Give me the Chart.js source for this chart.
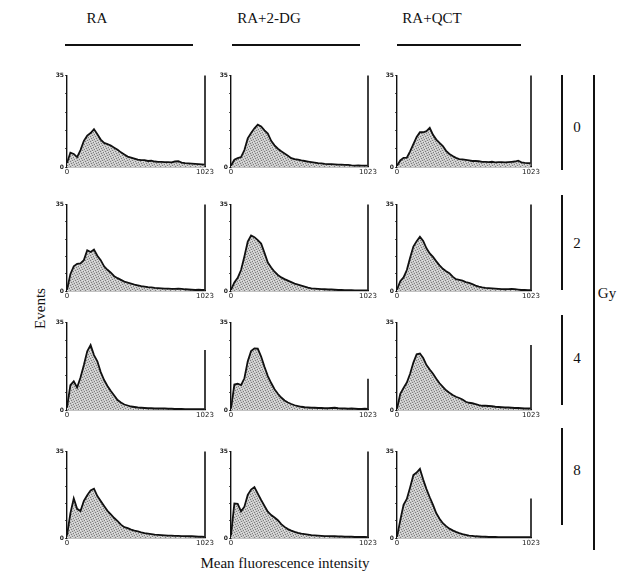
<!DOCTYPE html>
<html>
<head>
<meta charset="utf-8">
<script src="https://cdn.jsdelivr.net/npm/chart.js@4"></script>
<style>
  body { margin: 0; background: #fff; }
  #fig { position: relative; width: 644px; height: 577px; font-family: "Liberation Serif", "DejaVu Serif", serif; color: #111; }
  .lbl { position: absolute; font-size: 15px; transform: translate(-50%, -50%); white-space: nowrap; }
  .ln { position: absolute; background: #111; }
  canvas { position: absolute; }
</style>
</head>
<body>
<div id="fig"></div>
<script>
// categories
const treatments = ['RA', 'RA+2-DG', 'RA+QCT'];
const doses = ['0', '2', '4', '8'];
const xTickLabels = ['0', '1023'];
const yMax = 35;

// fluorescence channels (x of each histogram point)
const channels = [0, 25, 50, 75, 100, 125, 150, 175, 200, 225, 250, 275, 300, 325, 350, 375, 400, 425, 450, 475,
  500, 525, 550, 575, 600, 625, 650, 675, 700, 725, 750, 775, 800, 825, 850, 875, 900, 925, 950, 975, 1000, 1020];

// events per channel
const ra0 = [1.5, 5.5, 5, 3.8, 6.5, 10, 12, 13, 14.5, 12.5, 10.5, 9.2, 8.8, 8.2, 7.4, 6.6, 5.6, 4.8, 4, 3.6,
  3.2, 2.8, 2.6, 2.6, 2.3, 2.4, 2.1, 2, 2, 1.9, 1.9, 1.8, 2.1, 2.2, 1.7, 1.5, 1.4, 1.3, 1.2, 1.1, 1, 0.9];
const dg0 = [0.5, 2.8, 3.4, 3.8, 6.5, 11, 13, 14.8, 16.2, 15.5, 14, 12.8, 10, 8.3, 7, 6, 5.2, 4.3, 3.4, 3,
  2.8, 2.5, 2.3, 2.1, 1.9, 1.7, 1.5, 1.4, 1.2, 1.1, 1.1, 1, 0.9, 0.9, 0.8, 0.8, 0.6, 0.5, 0.6, 0.5, 0.5, 0.5];
const qct0 = [0.5, 2.5, 3.5, 3.6, 6, 8.8, 11.5, 13.3, 13.3, 13.7, 15, 12.3, 10.5, 9.2, 8, 6.2, 5, 4.2, 3.5, 3,
  2.9, 2.7, 2.5, 2.3, 2.3, 2.2, 2, 2, 1.9, 2, 1.8, 1.9, 1.9, 1.8, 1.9, 2, 2.1, 2.4, 1.8, 1.6, 1.5, 1.5];

const ra2 = [0.5, 6.8, 10, 11, 11.2, 12.5, 16.5, 15.8, 16.8, 14.3, 12.5, 10, 8.6, 7.4, 6, 5.2, 4.5, 3.8, 3.4, 3,
  2.6, 2.3, 2, 1.8, 1.6, 1.5, 1.3, 1.2, 1.1, 1, 1, 0.9, 0.9, 1, 0.9, 0.7, 0.6, 0.5, 0.4, 0.5, 0.4, 0.4];
const dg2 = [0.4, 3.5, 5.3, 8.5, 14, 20, 22.5, 21.8, 20.6, 19.2, 15.5, 11.5, 9.5, 7.8, 6.5, 5.5, 4.8, 4.2, 3.6, 3,
  2.6, 2.2, 1.8, 1.4, 1.1, 1, 0.9, 0.8, 0.7, 0.6, 0.6, 0.5, 0.4, 0.4, 0.3, 0.3, 0.3, 0.2, 0.2, 0.2, 0.2, 0.2];
const qct2 = [0.5, 4, 5.5, 8.5, 13.5, 18, 20.2, 22, 20.3, 17.3, 15.2, 13.8, 12, 10.4, 9, 8, 7.2, 5.8, 4.8, 4.5,
  4.2, 3.6, 3.3, 2.8, 2.2, 1.8, 1.5, 1.3, 1.2, 1.1, 1, 0.9, 0.8, 0.7, 0.8, 0.9, 0.8, 0.6, 0.4, 0.4, 0.3, 0.3];

const ra4 = [1, 10, 11.5, 9, 13, 18, 23.5, 26, 22, 19.5, 15.2, 12, 9.6, 7.6, 5.8, 4, 3, 2.2, 1.8, 1.4,
  1.2, 1, 0.9, 0.8, 0.7, 0.7, 0.6, 0.6, 0.6, 0.6, 0.5, 0.5, 0.4, 0.4, 0.4, 0.3, 0.3, 0.3, 0.3, 0.3, 0.3, 0.3];
const dg4 = [0.5, 10.2, 10.5, 10, 12.7, 19.5, 23.6, 24.7, 24.6, 21.4, 17.3, 13.6, 10.8, 8.3, 6.5, 5, 3.8, 3, 2.4, 1.9,
  1.6, 1.3, 1.1, 1, 0.9, 0.9, 0.8, 0.8, 0.7, 0.7, 0.8, 0.9, 0.7, 0.6, 0.6, 0.5, 0.6, 0.5, 0.4, 0.4, 0.5, 0.4];
const qct4 = [0.5, 6.5, 8.8, 11, 14.5, 19, 22.3, 22.6, 20.8, 18, 16.2, 14.5, 12.5, 10.7, 9.3, 7.9, 6.9, 6, 5.3, 4.8,
  4.2, 3.3, 2.9, 2.7, 2.4, 2, 1.7, 1.7, 1.6, 1.5, 1.3, 1.2, 1.1, 1, 1, 0.9, 0.8, 0.8, 0.7, 0.6, 0.6, 0.6];

const ra8 = [1, 10, 16, 11.8, 10.9, 15, 17.3, 19.3, 20, 17, 15, 13, 11, 9.6, 8.1, 6.8, 5.4, 4.4, 4, 3.4,
  3, 2.7, 2.3, 2, 1.8, 1.6, 1.4, 1.3, 1.2, 1.1, 1, 1, 0.9, 0.9, 0.8, 0.8, 0.7, 0.7, 0.6, 0.5, 0.5, 0.4];
const dg8 = [1, 14, 13.8, 10.8, 12.7, 17.5, 19.6, 20.6, 18, 15.4, 13, 10.7, 9.3, 8.3, 7.2, 5.6, 4.5, 3.6, 3, 2.5,
  2.1, 1.8, 1.6, 1.4, 1.2, 1.1, 1, 0.9, 0.8, 0.8, 0.7, 0.7, 0.6, 0.6, 0.5, 0.5, 0.5, 0.4, 0.4, 0.4, 0.4, 0.3];
const qct8 = [0.5, 7.2, 13.4, 15.8, 20.5, 25.5, 26.5, 28, 23.7, 19.8, 16.5, 13.4, 10, 7.8, 6, 4.8, 3.8, 3.1, 2.5, 2,
  1.6, 1.3, 1, 0.9, 0.7, 0.6, 0.5, 0.5, 0.4, 0.4, 0.4, 0.3, 0.3, 0.3, 0.3, 0.3, 0.3, 0.3, 0.3, 0.3, 0.3, 0.3];

// height of the overflow bar at channel 1023, row by row
const overflow = [35, 35, 35, 35, 35, 35, 24, 12.5, 26, 35, 35, 16];

const histograms = [[ra0, dg0, qct0], [ra2, dg2, qct2], [ra4, dg4, qct4], [ra8, dg8, qct8]];

// panel placement (plot area edges in px)
const colLeft = [67, 231, 397], colRight = [205, 368, 531];
const rowTop = [75, 204, 322, 451], rowBottom = [167, 291, 410, 538];
const AX_W = 12, AX_H = 10, PAD_T = 4, PAD_R = 10, PAD_B = 2;

const fig = document.getElementById('fig');

function addLabel(text, x, y, extra) {
  const d = document.createElement('div');
  d.className = 'lbl';
  d.textContent = text;
  d.style.left = x + 'px';
  d.style.top = y + 'px';
  if (extra) d.style.transform += ' ' + extra;
  fig.appendChild(d);
}
function addLine(x, y, w, h) {
  const d = document.createElement('div');
  d.className = 'ln';
  d.style.left = x + 'px'; d.style.top = y + 'px';
  d.style.width = w + 'px'; d.style.height = h + 'px';
  fig.appendChild(d);
}

// stippled grey fill like the scanned print
function makePattern() {
  const p = document.createElement('canvas');
  p.width = 5; p.height = 5;
  const g = p.getContext('2d');
  g.fillStyle = '#c9c9c9'; g.fillRect(0, 0, 5, 5);
  g.fillStyle = '#7e7e7e';
  [[0, 0], [3, 1], [1, 2], [4, 3], [2, 4]].forEach(([x, y]) => g.fillRect(x, y, 1, 1));
  g.fillStyle = '#e6e6e6';
  [[2, 0], [0, 3], [4, 1]].forEach(([x, y]) => g.fillRect(x, y, 1, 1));
  return g.createPattern(p, 'repeat');
}
const stipple = makePattern();

// headers
const headX = [97, 269, 432];
const headLine = [[65, 193], [232, 360], [397, 521]];
treatments.forEach((t, i) => {
  addLabel(t, headX[i], 18);
  addLine(headLine[i][0], 44, headLine[i][1] - headLine[i][0], 1.5);
});

// dose labels + brackets on the right
const doseY = [127, 243, 358, 470];
const bracket = [[75, 170], [195, 290], [315, 405], [428, 525]];
doses.forEach((d, i) => {
  addLabel(d, 577, doseY[i]);
  addLine(561, bracket[i][0], 1.5, bracket[i][1] - bracket[i][0]);
});
addLine(593, 75, 1.5, 475);
addLabel('Gy', 607, 293);
addLabel('Events', 20, 300, 'rotate(-90deg)');
addLabel('Mean fluorescence intensity', 285, 563);

histograms.forEach((row, r) => {
  row.forEach((vals, c) => {
    const w = colRight[c] - colLeft[c] + AX_W + PAD_R;
    const h = rowBottom[r] - rowTop[r] + PAD_T + AX_H + PAD_B;
    const cv = document.createElement('canvas');
    cv.width = w; cv.height = h;
    cv.style.left = (colLeft[c] - AX_W) + 'px';
    cv.style.top = (rowTop[r] - PAD_T) + 'px';
    cv.style.width = w + 'px'; cv.style.height = h + 'px';
    fig.appendChild(cv);

    new Chart(cv, {
      type: 'line',
      data: {
        datasets: [
          {
            data: channels.map((ch, i) => ({ x: ch, y: vals[i] })),
            fill: 'origin',
            backgroundColor: stipple,
            borderColor: '#111',
            borderWidth: 1.8,
            pointRadius: 0,
            tension: 0
          },
          {
            data: [{ x: 1023, y: 0 }, { x: 1023, y: overflow[r * 3 + c] }],
            borderColor: '#111',
            borderWidth: 1.6,
            pointRadius: 0,
            fill: false,
            clip: false
          }
        ]
      },
      options: {
        responsive: false,
        animation: false,
        events: [],
        plugins: { legend: { display: false }, tooltip: { enabled: false } },
        layout: { padding: { top: PAD_T, right: PAD_R, left: 0, bottom: PAD_B } },
        scales: {
          x: {
            type: 'linear', min: 0, max: 1023,
            afterBuildTicks: s => { s.ticks = [{ value: 0 }, { value: 1023 }]; },
            afterFit: s => { s.height = AX_H; },
            ticks: {
              font: { size: 7, family: 'DejaVu Sans' }, color: '#222', padding: 1, maxRotation: 0,
              autoSkip: false,
              callback: (v, i) => xTickLabels[i]
            },
            grid: { display: false, drawTicks: false },
            border: { display: true, color: '#111', width: 1.2 }
          },
          y: {
            min: 0, max: yMax,
            afterFit: s => { s.width = AX_W; },
            ticks: {
              stepSize: 7, font: { size: 6, family: 'DejaVu Sans', weight: 'bold' }, color: '#222', padding: 1,
              callback: v => (v === 0 || v === yMax) ? String(v) : ''
            },
            grid: { drawOnChartArea: false, tickLength: 2, color: '#555' },
            border: { display: true, color: '#111', width: 1.4 }
          }
        }
      }
    });
  });
});
</script>
</body>
</html>
